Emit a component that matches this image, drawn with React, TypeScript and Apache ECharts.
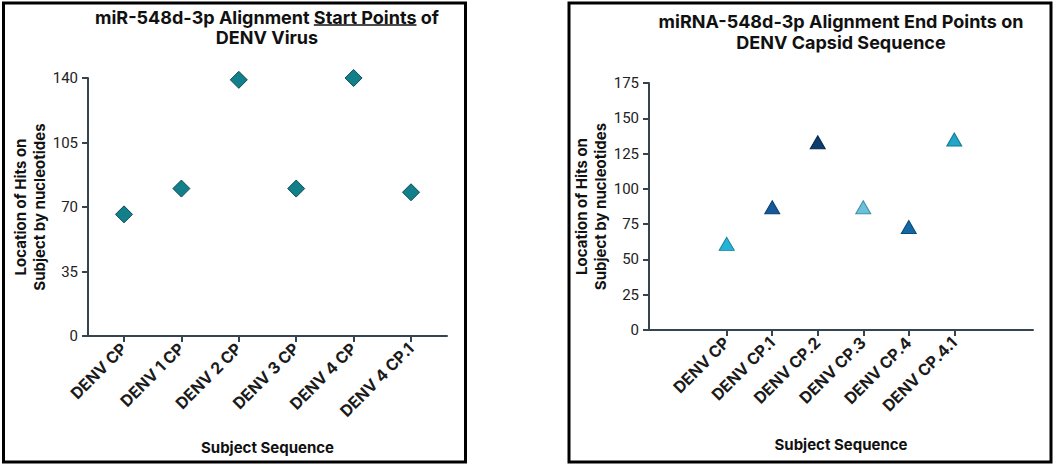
import React, { useEffect, useRef } from "react";
import * as echarts from "echarts";

const leftCategories = ["DENV CP", "DENV 1 CP", "DENV 2 CP", "DENV 3 CP", "DENV 4 CP", "DENV 4 CP.1"];
const leftValues = [66, 80, 139, 80, 140, 78];
const leftYMax = 140;
const leftYStep = 35;

const rightCategories = ["DENV CP", "DENV CP.1", "DENV CP.2", "DENV CP.3", "DENV CP.4", "DENV CP.4.1"];
const rightValues = [61, 87, 133, 87, 73, 135];
const rightYMax = 175;
const rightYStep = 25;

const rightColors = [
  ["#22b4d6", "#15849e"],
  ["#14599b", "#0b3e6d"],
  ["#0c3e6c", "#06284a"],
  ["#6cc0d8", "#3b8fa8"],
  ["#1268a7", "#0a4a79"],
  ["#20a6c9", "#127893"],
];

const TITLE_FONT = "Inter";
const TICK_FONT = "Roboto";
const AXIS_COLOR = "#36444f";

const leftTitlePre = "miR-548d-3p Alignment ";
const leftTitleU = "Start Points";
const leftTitlePost = " of";

function xAxisFor(cats: string[], gridIndex: number, min: number, max: number, nameGap: number) {
  const idx = cats.map((_, i) => i);
  return {
    type: "value",
    gridIndex,
    min,
    max,
    name: "Subject Sequence",
    nameLocation: "middle",
    nameGap,
    nameTextStyle: { fontFamily: TITLE_FONT, fontWeight: "bold", fontSize: 15, color: "#111" },
    axisLine: { show: true, onZero: false, lineStyle: { color: AXIS_COLOR, width: 2 } },
    axisTick: { show: true, customValues: idx, length: 6, lineStyle: { color: AXIS_COLOR, width: 2 } },
    axisLabel: {
      customValues: idx,
      rotate: 45,
      margin: 10,
      formatter: (v: number) => cats[Math.round(v)] ?? "",
      fontFamily: TITLE_FONT,
      fontWeight: "bold",
      fontSize: 16,
      color: "#1a1a1a",
    },
    splitLine: { show: false },
  };
}

function yAxisFor(gridIndex: number, max: number, step: number, nameGap: number) {
  return {
    type: "value",
    gridIndex,
    min: 0,
    max,
    interval: step,
    name: "Location of Hits on\nSubject by nucleotides",
    nameLocation: "middle",
    nameGap,
    nameTextStyle: { fontFamily: TITLE_FONT, fontWeight: "bold", fontSize: 15, lineHeight: 19, color: "#111" },
    axisLine: { show: true, onZero: false, lineStyle: { color: AXIS_COLOR, width: 2 } },
    axisTick: { show: true, length: 6, lineStyle: { color: AXIS_COLOR, width: 2 } },
    axisLabel: { fontFamily: TICK_FONT, fontSize: 15, color: "#222", margin: 10 },
    splitLine: { show: false },
  };
}

function measure(text: string, font: string): number {
  const c = document.createElement("canvas").getContext("2d");
  if (!c) return text.length * 9;
  c.font = font;
  return c.measureText(text).width;
}

export default function App() {
  const ref = useRef<HTMLDivElement>(null);
  useEffect(() => {
    if (!ref.current) return;
    const chart = echarts.init(ref.current, undefined, { renderer: "svg" });
    const tFont = `bold 18px "${TITLE_FONT}"`;
    const leftTitleX = 267;
    const wPre = measure(leftTitlePre, tFont);
    const wU = measure(leftTitleU, tFont);
    const wPost = measure(leftTitlePost, tFont);
    const total = wPre + wU + wPost;
    const uStart = leftTitleX - total / 2 + wPre;
    const uEnd = uStart + wU;

    chart.setOption({
      animation: false,
      backgroundColor: "#ffffff",
      grid: [
        { left: 88, top: 78, width: 359, height: 258 },
        { left: 649, top: 83, width: 384, height: 247 },
      ],
      xAxis: [
        xAxisFor(leftCategories, 0, -0.627, 5.627, 104),
        xAxisFor(rightCategories, 1, -1.708, 6.73, 107),
      ],
      yAxis: [
        yAxisFor(0, leftYMax, leftYStep, 36),
        yAxisFor(1, rightYMax, rightYStep, 30),
      ],
      series: [
        {
          type: "scatter",
          xAxisIndex: 0,
          yAxisIndex: 0,
          symbol: "diamond",
          symbolSize: 17,
          itemStyle: { color: "#127f8b", borderColor: "#0a4d55", borderWidth: 1, opacity: 1 },
          data: leftValues.map((v, i) => [i, v]),
        },
        {
          type: "scatter",
          xAxisIndex: 1,
          yAxisIndex: 1,
          symbol: "triangle",
          symbolSize: [15, 13],
          data: rightValues.map((v, i) => ({
            value: [i, v],
            itemStyle: { color: rightColors[i][0], borderColor: rightColors[i][1], borderWidth: 1, opacity: 1 },
          })),
        },
      ],
      graphic: [
        {
          type: "rect",
          shape: { x: 3.5, y: 3, width: 462, height: 459 },
          style: { fill: "none", stroke: "#000", lineWidth: 3 },
          silent: true,
        },
        {
          type: "rect",
          shape: { x: 569, y: 3, width: 482, height: 459 },
          style: { fill: "none", stroke: "#000", lineWidth: 3 },
          silent: true,
        },
        {
          type: "text",
          x: leftTitleX,
          y: 7,
          style: {
            text: leftTitlePre + leftTitleU + leftTitlePost + "\nDENV Virus",
            font: tFont,
            lineHeight: 20,
            align: "center",
            verticalAlign: "top",
            fill: "#111",
          },
        },
        {
          type: "line",
          shape: { x1: uStart, y1: 25, x2: uEnd, y2: 25 },
          style: { stroke: "#111", lineWidth: 1.3 },
        },
        {
          type: "text",
          x: 841,
          y: 11,
          style: {
            text: "miRNA-548d-3p Alignment End Points on\nDENV Capsid Sequence",
            font: tFont,
            lineHeight: 21,
            align: "center",
            verticalAlign: "top",
            fill: "#111",
          },
        },
      ],
    });
    return () => chart.dispose();
  }, []);
  return (
    <div
      ref={ref}
      style={{ position: "absolute", left: 0, top: 0, width: 1059, height: 467 }}
    />
  );
}
